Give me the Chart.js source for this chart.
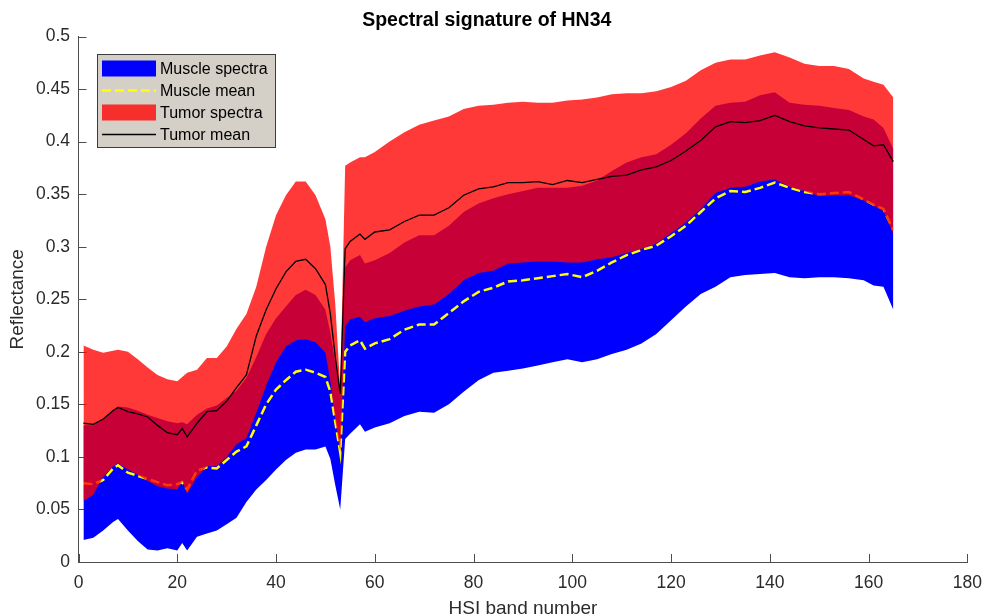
<!DOCTYPE html>
<html>
<head>
<meta charset="utf-8">
<title>Spectral signature of HN34</title>
<script src="https://cdn.jsdelivr.net/npm/chart.js@4.4.1/dist/chart.umd.min.js"></script>
<style>
  html, body { margin: 0; padding: 0; background: #fff; }
  #wrap { position: relative; width: 993px; height: 616px; }
</style>
</head>
<body>
<div id="wrap"><canvas id="chart-spectra"></canvas></div>
<script>
// HSI band number (x positions of the samples)
var bands = [1, 3, 5, 7, 8, 10, 12, 14, 16, 18, 20, 21, 22, 24, 26, 28, 30, 32, 34, 36,
  38, 40, 42, 44, 46, 48, 50, 51, 52, 53, 54, 55, 57, 58, 60, 63, 66, 69, 72, 75,
  78, 81, 84, 87, 90, 93, 96, 99, 102, 105, 108, 111, 114, 117, 120, 123, 126, 129, 132, 135,
  138, 141, 144, 147, 150, 153, 156, 159, 161, 163, 165];

// muscle: lower / upper envelope and mean
var muscleMin = [0.021, 0.023, 0.030, 0.038, 0.041, 0.030, 0.020, 0.012, 0.011, 0.013,
  0.011, 0.018, 0.011, 0.024, 0.027, 0.030, 0.036, 0.042, 0.057, 0.069,
  0.078, 0.088, 0.097, 0.104, 0.107, 0.107, 0.110, 0.098, 0.073, 0.050,
  0.117, 0.122, 0.131, 0.124, 0.128, 0.132, 0.139, 0.143, 0.142, 0.150,
  0.162, 0.173, 0.180, 0.182, 0.184, 0.187, 0.190, 0.193, 0.190, 0.193,
  0.198, 0.202, 0.208, 0.217, 0.230, 0.243, 0.255, 0.262, 0.271, 0.273,
  0.274, 0.275, 0.271, 0.270, 0.271, 0.271, 0.270, 0.268, 0.263, 0.262,
  0.240];
var muscleMax = [0.130, 0.130, 0.136, 0.145, 0.148, 0.147, 0.144, 0.140, 0.137, 0.134,
  0.132, 0.133, 0.131, 0.140, 0.146, 0.149, 0.156, 0.163, 0.175, 0.195,
  0.217, 0.232, 0.243, 0.254, 0.259, 0.254, 0.240, 0.218, 0.190, 0.158,
  0.280, 0.287, 0.292, 0.284, 0.287, 0.294, 0.304, 0.311, 0.311, 0.320,
  0.333, 0.341, 0.346, 0.350, 0.353, 0.356, 0.356, 0.356, 0.358, 0.363,
  0.372, 0.380, 0.385, 0.388, 0.397, 0.408, 0.422, 0.434, 0.437, 0.438,
  0.444, 0.447, 0.437, 0.435, 0.434, 0.432, 0.430, 0.424, 0.421, 0.413,
  0.393];
var muscleMean = [0.075, 0.074, 0.078, 0.089, 0.092, 0.085, 0.082, 0.079, 0.076, 0.073,
  0.074, 0.076, 0.069, 0.087, 0.090, 0.089, 0.097, 0.105, 0.110, 0.130,
  0.150, 0.164, 0.173, 0.181, 0.183, 0.180, 0.176, 0.162, 0.133, 0.104,
  0.200, 0.206, 0.211, 0.203, 0.208, 0.212, 0.221, 0.226, 0.226, 0.237,
  0.248, 0.257, 0.261, 0.267, 0.268, 0.270, 0.272, 0.274, 0.271, 0.277,
  0.285, 0.292, 0.297, 0.301, 0.310, 0.320, 0.333, 0.346, 0.353, 0.352,
  0.356, 0.361, 0.356, 0.352, 0.350, 0.351, 0.352, 0.345, 0.340, 0.336,
  0.316];

// tumor: lower / upper envelope and mean
var tumorMin = [0.058, 0.064, 0.081, 0.091, 0.094, 0.088, 0.083, 0.077, 0.072, 0.070,
  0.069, 0.077, 0.065, 0.081, 0.091, 0.091, 0.100, 0.112, 0.118, 0.142,
  0.168, 0.190, 0.205, 0.211, 0.212, 0.209, 0.199, 0.172, 0.135, 0.105,
  0.224, 0.231, 0.233, 0.228, 0.232, 0.234, 0.239, 0.243, 0.245, 0.255,
  0.268, 0.275, 0.277, 0.284, 0.285, 0.286, 0.286, 0.285, 0.285, 0.288,
  0.290, 0.294, 0.298, 0.303, 0.313, 0.323, 0.336, 0.351, 0.356, 0.357,
  0.362, 0.364, 0.357, 0.353, 0.348, 0.349, 0.349, 0.344, 0.339, 0.334,
  0.312];
var tumorMax = [0.206, 0.202, 0.199, 0.201, 0.202, 0.200, 0.193, 0.185, 0.178, 0.174,
  0.172, 0.176, 0.180, 0.183, 0.194, 0.194, 0.205, 0.222, 0.236, 0.262,
  0.300, 0.330, 0.349, 0.362, 0.362, 0.349, 0.326, 0.300, 0.245, 0.165,
  0.377, 0.380, 0.385, 0.385, 0.390, 0.400, 0.409, 0.416, 0.420, 0.424,
  0.431, 0.434, 0.435, 0.437, 0.438, 0.437, 0.437, 0.439, 0.440, 0.442,
  0.445, 0.446, 0.446, 0.448, 0.452, 0.458, 0.468, 0.475, 0.478, 0.478,
  0.482, 0.485, 0.480, 0.474, 0.472, 0.472, 0.469, 0.460, 0.457, 0.454,
  0.442];
var tumorMean = [0.132, 0.131, 0.136, 0.144, 0.147, 0.143, 0.141, 0.138, 0.130, 0.123,
  0.121, 0.127, 0.119, 0.132, 0.143, 0.144, 0.153, 0.166, 0.178, 0.215,
  0.240, 0.260, 0.276, 0.286, 0.288, 0.279, 0.264, 0.236, 0.195, 0.160,
  0.298, 0.305, 0.312, 0.307, 0.314, 0.316, 0.324, 0.330, 0.330, 0.337,
  0.349, 0.355, 0.357, 0.361, 0.361, 0.362, 0.359, 0.363, 0.361, 0.364,
  0.367, 0.368, 0.373, 0.376, 0.382, 0.391, 0.401, 0.414, 0.419, 0.418,
  0.420, 0.425, 0.419, 0.415, 0.413, 0.412, 0.411, 0.402, 0.396, 0.397,
  0.381];

var xTickValues = [0, 20, 40, 60, 80, 100, 120, 140, 160, 180];
var yTickValues = [0, 0.05, 0.1, 0.15, 0.2, 0.25, 0.3, 0.35, 0.4, 0.45, 0.5];

var FONT = '"Liberation Sans", Arial, Helvetica, sans-serif';
var AXIS = '#4d4d4d';
var TEXT = '#2b2b2b';
var BLUE = '#0000ff';
var RED = 'rgba(255,0,0,0.78)';

function pts(values) {
  return values.map(function (v, i) {
    return { x: bands[i], y: v };
  });
}

function toTicks(list) {
  return function (scale) {
    scale.ticks = list.map(function (v) { return { value: v }; });
  };
}

// MATLAB-style ticks pointing into the axes
var innerTicks = {
  id: 'innerTicks',
  beforeDatasetsDraw: function (chart) {
    var ctx = chart.ctx;
    var area = chart.chartArea;
    var xs = chart.scales.x;
    var ys = chart.scales.y;
    ctx.save();
    ctx.strokeStyle = AXIS;
    ctx.lineWidth = 1;
    ctx.beginPath();
    xs.ticks.forEach(function (t) {
      var px = Math.round(xs.getPixelForValue(t.value)) + 0.5;
      ctx.moveTo(px, area.bottom);
      ctx.lineTo(px, area.bottom - 8);
    });
    ys.ticks.forEach(function (t) {
      var py = Math.round(ys.getPixelForValue(t.value)) + 0.5;
      ctx.moveTo(area.left, py);
      ctx.lineTo(area.left + 8, py);
    });
    ctx.stroke();
    ctx.restore();
  }
};

// boxed legend in the upper-left corner
var boxLegend = {
  id: 'boxLegend',
  afterDraw: function (chart) {
    var ctx = chart.ctx;
    var x = 97.5, y = 54.5, w = 178, h = 93;
    var items = chart.data.datasets.filter(function (ds) { return ds.label; });
    ctx.save();
    ctx.fillStyle = '#d4d0c8';
    ctx.fillRect(x, y, w, h);
    ctx.strokeStyle = '#3c3c3c';
    ctx.lineWidth = 1;
    ctx.strokeRect(x, y, w, h);
    ctx.font = '16px ' + FONT;
    ctx.textBaseline = 'middle';
    ctx.textAlign = 'left';
    items.forEach(function (ds, i) {
      var cy = y + 14 + i * 22;
      if (ds.fill) {
        ctx.fillStyle = ds.backgroundColor;
        ctx.fillRect(102, cy - 8, 54, 16);
      } else {
        ctx.beginPath();
        ctx.strokeStyle = ds.borderColor;
        ctx.lineWidth = ds.borderWidth;
        ctx.setLineDash(ds.borderDash || []);
        ctx.moveTo(102, cy);
        ctx.lineTo(156, cy);
        ctx.stroke();
        ctx.setLineDash([]);
      }
      ctx.fillStyle = '#000';
      ctx.fillText(ds.label, 160, cy + 1);
    });
    ctx.restore();
  }
};

var hidden = 'rgba(0,0,0,0)';

new Chart(document.getElementById('chart-spectra'), {
  type: 'line',
  data: {
    datasets: [
      { label: '', data: pts(muscleMin), borderColor: hidden, borderWidth: 1, order: 6 },
      { label: 'Muscle spectra', data: pts(muscleMax), borderColor: hidden, borderWidth: 1,
        backgroundColor: BLUE, fill: { target: 0 }, order: 5 },
      { label: 'Muscle mean', data: pts(muscleMean), borderColor: '#ffff00', borderWidth: 2.5,
        borderDash: [9, 4], fill: false, order: 4 },
      { label: '', data: pts(tumorMin), borderColor: hidden, borderWidth: 1, order: 3 },
      { label: 'Tumor spectra', data: pts(tumorMax), borderColor: hidden, borderWidth: 1,
        backgroundColor: RED, fill: { target: 3 }, order: 2 },
      { label: 'Tumor mean', data: pts(tumorMean), borderColor: '#000000', borderWidth: 1.3,
        fill: false, order: 1 }
    ]
  },
  options: {
    responsive: true,
    maintainAspectRatio: false,
    animation: false,
    events: [],
    elements: { point: { radius: 0 }, line: { tension: 0 } },
    layout: { padding: { left: 0, right: 19.5, top: 0, bottom: 0 } },
    plugins: {
      legend: { display: false },
      tooltip: { enabled: false },
      title: {
        display: true,
        text: 'Spectral signature of HN34',
        color: '#000',
        font: { family: FONT, size: 19.5, weight: 'bold', lineHeight: 1 },
        padding: { top: 11, bottom: 6 }
      }
    },
    scales: {
      x: {
        type: 'linear',
        min: 0,
        max: 180,
        afterBuildTicks: toTicks(xTickValues),
        afterFit: function (s) { s.height = 54; },
        grid: { display: false, drawTicks: false },
        border: { display: true, color: AXIS, width: 1 },
        ticks: { color: TEXT, padding: 11, maxRotation: 0, font: { family: FONT, size: 17.5 } },
        title: {
          display: true,
          text: 'HSI band number',
          color: TEXT,
          font: { family: FONT, size: 19, lineHeight: 0.8 },
          padding: { top: 0, bottom: 0 }
        }
      },
      y: {
        min: 0,
        max: 0.5,
        afterBuildTicks: toTicks(yTickValues),
        afterFit: function (s) { s.width = 78.5; },
        grid: { display: false, drawTicks: false },
        border: { display: true, color: AXIS, width: 1 },
        ticks: {
          color: TEXT,
          padding: 8.5,
          font: { family: FONT, size: 17.5 },
          callback: function (v) { return String(+(+v).toFixed(2)); }
        },
        title: {
          display: true,
          text: 'Reflectance',
          color: TEXT,
          font: { family: FONT, size: 19, lineHeight: 1 },
          padding: { top: 8, bottom: 0 }
        }
      }
    }
  },
  plugins: [innerTicks, boxLegend]
});
</script>
</body>
</html>
